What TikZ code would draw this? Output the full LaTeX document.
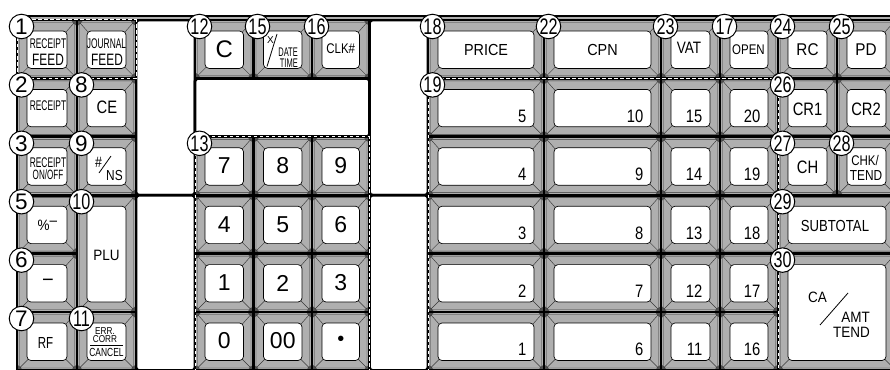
\documentclass[tikz,border=0pt]{standalone}
\usepackage{fontspec}
\setmainfont{Liberation Sans}
\newfontfamily\fa[FakeStretch=0.6]{Liberation Sans}
\newfontfamily\fb[FakeStretch=0.72]{Liberation Sans}
\newfontfamily\fc[FakeStretch=0.82]{Liberation Sans}
\newfontfamily\fd[FakeStretch=0.9]{Liberation Sans}
\newfontfamily\fe{Liberation Sans}
\newcommand{\fs}[1]{\fontsize{#1}{#1}\selectfont}
\definecolor{keygray}{RGB}{175,175,175}
\definecolor{dkgray}{RGB}{80,80,80}
\definecolor{bevcol}{RGB}{55,55,55}
\tikzset{
  bevline/.style={draw=bevcol, line width=0.45pt},
  innerk/.style={draw=black, fill=white, line width=0.7pt, rounded corners=4pt},
  gridl/.style={draw=black, line width=2.8pt},
  whitebox/.style={draw=black, fill=white, line width=2.8pt, rounded corners=3pt},
  dashw/.style={draw=white, line width=1pt, dash pattern=on 3.5pt off 2.5pt},
  circ/.style={circle, draw=black, fill=white, line width=1pt, minimum size=24.5pt, inner sep=0pt, font=\fe\fs{22.5}},
  circtwo/.style={circ, font=\fb\fs{22.5}},
  lab/.style={inner sep=0pt, anchor=base},
  labe/.style={inner sep=0pt, anchor=base east},
  labc/.style={inner sep=0pt, anchor=center},
  glyphline/.style={draw=black, line width=0.8pt},
}
\newcommand{\kbase}[4]{%
  \fill[keygray] (#1,#2) rectangle (#3,#4);
  \fill[dkgray] (#1,#2) -- ({#1+6.5},#2) -- (#1,{#2+6.5}) -- cycle;
  \fill[dkgray] (#3,#2) -- ({#3-6.5},#2) -- (#3,{#2+6.5}) -- cycle;
  \fill[dkgray] (#1,#4) -- ({#1+6.5},#4) -- (#1,{#4-6.5}) -- cycle;
  \fill[dkgray] (#3,#4) -- ({#3-6.5},#4) -- (#3,{#4-6.5}) -- cycle;
  \draw[bevline] ({#1+4},{#2+2.5}) -- ({#3-4},{#2+2.5}) -- ({#3-2.5},{#2+4}) -- ({#3-2.5},{#4-4}) -- ({#3-4},{#4-2.5}) -- ({#1+4},{#4-2.5}) -- ({#1+2.5},{#4-4}) -- ({#1+2.5},{#2+4}) -- cycle;
  \draw[bevline] ({#1+3.3},{#2+3.3}) -- ({#1+11.2},{#2+12.2});
  \draw[bevline] ({#3-3.3},{#2+3.3}) -- ({#3-11.2},{#2+12.2});
  \draw[bevline] ({#1+3.3},{#4-3.3}) -- ({#1+11.2},{#4-11.2});
  \draw[bevline] ({#3-3.3},{#4-3.3}) -- ({#3-11.2},{#4-11.2});
  \draw[innerk] ({#1+10},{#2+11}) rectangle ({#3-10},{#4-10});
}
\def\keycells{17/20/77/78.4, 77/20/136/78.4,
17/78.4/77/136.8, 77/78.4/136/136.8,
17/136.8/77/195.2, 77/136.8/136/195.2,
17/195.2/77/253.6, 77/195.2/136/312,
17/253.6/77/312,
17/312/77/370.5, 77/312/136/370.5,
195/20/253.5/78.4, 253.5/20/312/78.4, 312/20/369.5/78.4,
195/136.8/253.5/195.2, 253.5/136.8/312/195.2, 312/136.8/369.5/195.2,
195/195.2/253.5/253.6, 253.5/195.2/312/253.6, 312/195.2/369.5/253.6,
195/253.6/253.5/312, 253.5/253.6/312/312, 312/253.6/369.5/312,
195/312/253.5/370.5, 253.5/312/312/370.5, 312/312/369.5/370.5,
428/20/544/78.4, 544/20/661/78.4, 661/20/720/78.4, 720/20/778/78.4, 778/20/837/78.4, 837/20/896/78.4,
428/78.4/544/136.8, 544/78.4/661/136.8, 661/78.4/720/136.8, 720/78.4/778/136.8,
428/136.8/544/195.2, 544/136.8/661/195.2, 661/136.8/720/195.2, 720/136.8/778/195.2,
428/195.2/544/253.6, 544/195.2/661/253.6, 661/195.2/720/253.6, 720/195.2/778/253.6,
428/253.6/544/312, 544/253.6/661/312, 661/253.6/720/312, 720/253.6/778/312,
428/312/544/370.5, 544/312/661/370.5, 661/312/720/370.5, 720/312/778/370.5,
778/78.4/837/136.8, 837/78.4/896/136.8,
778/136.8/837/195.2, 837/136.8/896/195.2,
778/195.2/896/253.6,
778/253.6/896/370.5}
\begin{document}
\begin{tikzpicture}[x=1pt,y=-1pt]
\useasboundingbox (0,0) rectangle (890,369);
\clip (0,0) rectangle (890,369);
% blank areas
\draw[whitebox] (136,20) rectangle (195,195.2);
\draw[whitebox] (136,195.2) rectangle (195,370.5);
\draw[whitebox] (369.5,20) rectangle (428,195.2);
\draw[whitebox] (369.5,195.2) rectangle (428,370.5);
\draw[whitebox] (195,78.4) rectangle (369.5,136.8);
% keys
\foreach \qa/\qb/\qc/\qd in \keycells {\kbase{\qa}{\qb}{\qc}{\qd}}
\foreach \qa/\qb/\qc/\qd in \keycells {\draw[gridl] (\qa,\qb) rectangle (\qc,\qd);}
% top frame
\fill[black] (15.6,14.8) rectangle (896,21.4);
\fill[keygray] (18.5,16.8) rectangle (896,18.6);
% dashed group borders
\draw[dashw] (17,20) rectangle (136,78.4);
\draw[dashw] (195,372) -- (195,136.8) -- (369.5,136.8) -- (369.5,372);
\draw[dashw] (428,372) -- (428,78.4) -- (778,78.4) -- (778,372);
% circled numbers
\node[circ] (c1) at (21.5,26.5) {1};
\node[circ] (c2) at (21.5,84.9) {2};
\node[circ] (c3) at (21.5,143.3) {3};
\node[circ] (c5) at (21.5,201.7) {5};
\node[circ] (c6) at (21.5,260.1) {6};
\node[circ] (c7) at (21.5,318.5) {7};
\node[circ] (c8) at (81.5,84.9) {8};
\node[circ] (c9) at (81.5,143.3) {9};
\node[circtwo] (c10) at (81.5,201.7) {10};
\node[circtwo] (c11) at (81.5,318.5) {11};
\node[circtwo] (c12) at (199.5,26.5) {12};
\node[circtwo] (c15) at (257.5,26.5) {15};
\node[circtwo] (c16) at (316.5,26.5) {16};
\node[circtwo] (c13) at (199.5,143.3) {13};
\node[circtwo] (c18) at (432.5,26.5) {18};
\node[circtwo] (c22) at (548.5,26.5) {22};
\node[circtwo] (c23) at (665.5,26.5) {23};
\node[circtwo] (c17) at (724.5,26.5) {17};
\node[circtwo] (c24) at (782.5,26.5) {24};
\node[circtwo] (c25) at (841.5,26.5) {25};
\node[circtwo] (c19) at (432.5,84.9) {19};
\node[circtwo] (c26) at (782.5,84.9) {26};
\node[circtwo] (c27) at (782.5,143.3) {27};
\node[circtwo] (c28) at (841.5,143.3) {28};
\node[circtwo] (c29) at (782.5,201.7) {29};
\node[circtwo] (c30) at (782.5,260.1) {30};
% left block labels
\node[lab,font=\fa\fs{14}] (rfa) at (48,48.3) {RECEIPT};
\node[lab,font=\fb\fs{16.5}] (rfb) at (48,65) {FEED};
\node[lab,font=\fa\fs{14}] (jfa) at (106.5,48.3) {JOURNAL};
\node[lab,font=\fb\fs{16.5}] (jfb) at (107,65) {FEED};
\node[lab,font=\fa\fs{14}] (rcp) at (48,110.5) {RECEIPT};
\node[lab,font=\fc\fs{18}] (ce) at (107,113) {CE};
\node[lab,font=\fa\fs{14}] (roa) at (48,167) {RECEIPT};
\node[lab,font=\fa\fs{13.5}] (rob) at (48,179.5) {ON/OFF};
\node[lab,font=\fc\fs{15}] (nsa) at (98.5,167) {\#};
\node[lab,font=\fc\fs{14.5}] (nsb) at (114.5,180) {NS};
\draw[glyphline] (99,173) -- (111,156);
\node[lab,font=\fd\fs{15}] (pct) at (47.5,230) {\%\raisebox{4.5pt}{–}};
\node[lab,font=\fd\fs{15}] (plu) at (106.5,260) {PLU};
\node[labc,font=\fe\fs{20}] (mns) at (48,283) {−};
\node[lab,font=\fb\fs{16}] (rf) at (45.5,348) {RF};
\node[lab,font=\fc\fs{10}] (eca) at (105,334) {ERR.};
\node[lab,font=\fc\fs{10}] (ecb) at (105,342.3) {CORR};
\draw[glyphline] (90,345.6) -- (123,345.6);
\node[lab,font=\fb\fs{11.7}] (ecc) at (106.5,356.7) {CANCEL};
% middle labels
\node[labc,font=\fe\fs{24}] (kc) at (224.25,49.5) {C};
\node[labc,font=\fe\fs{10}] (kx) at (270.5,40) {X};
\draw[glyphline] (267,66.5) -- (277,34);
\node[labe,font=\fa\fs{12.5}] (kda) at (298,56.5) {DATE};
\node[labe,font=\fa\fs{12.5}] (kdb) at (298,67.5) {TIME};
\node[lab,font=\fc\fs{14}] (clk) at (340.7,53) {CLK\#};
\node[labc,font=\fe\fs{23}] (n7) at (224.25,166) {7};
\node[labc,font=\fe\fs{23}] (n8) at (282.75,166) {8};
\node[labc,font=\fe\fs{23}] (n9) at (340.75,166) {9};
\node[labc,font=\fe\fs{23}] (n4) at (224.25,224.4) {4};
\node[labc,font=\fe\fs{23}] (n5) at (282.75,224.4) {5};
\node[labc,font=\fe\fs{23}] (n6) at (340.75,224.4) {6};
\node[labc,font=\fe\fs{23}] (n1) at (224.25,283) {1};
\node[labc,font=\fe\fs{23}] (n2) at (282.75,283) {2};
\node[labc,font=\fe\fs{23}] (n3) at (340.75,283) {3};
\node[labc,font=\fe\fs{23}] (n0) at (224.25,341) {0};
\node[labc,font=\fe\fs{23}] (n00) at (282.75,341) {00};
\node[labc,font=\fe\fs{20}] (ndot) at (340.75,341) {•};
% right labels
\node[lab,font=\fd\fs{16}] (price) at (486,56) {PRICE};
\node[lab,font=\fd\fs{16}] (cpn) at (602.5,56) {CPN};
\node[lab,font=\fc\fs{16.5}] (vat) at (689,53.5) {VAT};
\node[lab,font=\fc\fs{14}] (open) at (748.5,55) {OPEN};
\node[lab,font=\fd\fs{17}] (rc) at (807.5,56) {RC};
\node[lab,font=\fd\fs{17}] (pd) at (866,55.5) {PD};
\foreach \num/\xx/\yy in {5/526.5/122.3, 10/643.5/122.3, 15/702.5/122.3, 20/760.5/122.3,
  4/526.5/180.7, 9/643.5/180.7, 14/702.5/180.7, 19/760.5/180.7,
  3/526.5/239.1, 8/643.5/239.1, 13/702.5/239.1, 18/760.5/239.1,
  2/526.5/297.5, 7/643.5/297.5, 12/702.5/297.5, 17/760.5/297.5,
  1/526.5/355, 6/643.5/355, 11/702.5/355, 16/760.5/355}
  {\node[labe,font=\fc\fs{18}] (d\num) at (\xx,\yy) {\num};}
\node[lab,font=\fc\fs{18}] (cr1) at (807.5,115) {CR1};
\node[lab,font=\fc\fs{18}] (cr2) at (866,115) {CR2};
\node[lab,font=\fc\fs{18}] (ch) at (807.5,173) {CH};
\node[lab,font=\fc\fs{14}] (chka) at (865,165) {CHK/};
\node[lab,font=\fc\fs{14.5}] (chkb) at (866,180) {TEND};
\node[lab,font=\fc\fs{16}] (subt) at (835,231) {SUBTOTAL};
\node[lab,font=\fd\fs{15}] (ca) at (817.5,302) {CA};
\draw[glyphline] (820,325) -- (848,293);
\node[labe,font=\fd\fs{15}] (amt) at (870,322) {AMT};
\node[labe,font=\fd\fs{15}] (amtt) at (870,337) {TEND};
\end{tikzpicture}
\end{document}
